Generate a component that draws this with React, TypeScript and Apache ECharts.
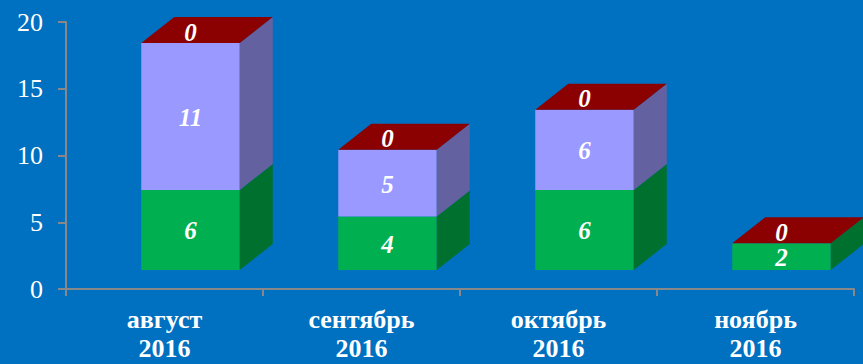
import React, { useEffect, useRef } from "react";
import * as echarts from "echarts";

const categories = ["август\n2016", "сентябрь\n2016", "октябрь\n2016", "ноябрь\n2016"];
const greenValues = [6, 4, 6, 2];
const lavenderValues: (number | null)[] = [11, 5, 6, null];
const redValues = [0, 0, 0, 0];
const yTicks = { min: 0, max: 20, interval: 5 };

const FONT = '"Liberation Serif", "Times New Roman", serif';

type Seg = { name: string; values: (number | null)[]; front: string; side: string; top: boolean };
const segs: Seg[] = [
  { name: "green", values: greenValues, front: "#00B050", side: "#00702F", top: false },
  { name: "lavender", values: lavenderValues, front: "#9999FF", side: "#6461A0", top: false },
  { name: "red", values: redValues, front: "#8B0000", side: "#5E0000", top: true },
];

export default function App() {
  const ref = useRef<HTMLDivElement>(null);
  useEffect(() => {
    if (!ref.current) return;
    const chart = echarts.init(ref.current, null, { renderer: "svg" });

    const series: any[] = segs.map((seg, si) => {
      const data = seg.values.map((v, i) => {
        let base = 0;
        for (let k = 0; k < si; k++) base += segs[k].values[i] ?? 0;
        return [i, base, v];
      });
      return {
        type: "custom",
        name: seg.name,
        data,
        z: 2 + si,
        renderItem: (params: any, api: any) => {
          const idx = api.value(0);
          const base = api.value(1);
          const val = api.value(2);
          if (val === null || val === undefined || isNaN(val)) return { type: "group", children: [] };
          const band = api.size([1, 0])[0];
          const lift = 19;
          const pBase = api.coord([idx, base]);
          const pTop = api.coord([idx, base + val]);
          const cx = pBase[0] + band * 0.132;
          const w = band * 0.5;
          const x0 = cx - w / 2;
          const x1 = cx + w / 2;
          const yb = pBase[1] - lift;
          const yt = pTop[1] - lift;
          const dx = band * 0.1675;
          const dy = 26;
          const children: any[] = [];
          if (yb - yt > 0) {
            children.push({
              type: "rect",
              shape: { x: x0, y: yt, width: w, height: yb - yt },
              style: { fill: seg.front },
            });
            children.push({
              type: "polygon",
              shape: { points: [[x1, yb], [x1 + dx, yb - dy], [x1 + dx, yt - dy], [x1, yt]] },
              style: { fill: seg.side },
            });
          }
          if (seg.top) {
            children.push({
              type: "polygon",
              shape: { points: [[x0, yt], [x1, yt], [x1 + dx, yt - dy], [x0 + dx, yt - dy]] },
              style: { fill: seg.front },
            });
          }
          const ly = yb - yt > 0 ? (yt + yb) / 2 + 1 : yt - 11;
          children.push({
            type: "text",
            z2: 10,
            style: {
              x: cx,
              y: ly,
              text: String(val),
              fill: "#FFFFFF",
              font: `italic bold 25px ${FONT}`,
              lineHeight: 20,
              align: "center",
              verticalAlign: "middle",
            },
          });
          return { type: "group", children };
        },
      };
    });

    chart.setOption({
      animation: false,
      backgroundColor: "#0070C0",
      grid: { left: 66, right: 9, top: 22, bottom: 75, containLabel: false, outerBoundsMode: "none" },
      xAxis: {
        type: "category",
        data: categories,
        boundaryGap: true,
        axisLine: { lineStyle: { color: "#888888", width: 2 } },
        axisTick: { show: true, length: 7, lineStyle: { color: "#888888", width: 2 } },
        axisLabel: {
          color: "#FFFFFF",
          fontFamily: FONT,
          fontWeight: "bold",
          fontSize: 26,
          lineHeight: 29,
          margin: 16,
          interval: 0,
        },
      },
      yAxis: {
        type: "value",
        min: yTicks.min,
        max: yTicks.max,
        interval: yTicks.interval,
        splitLine: { show: false },
        axisLine: { show: true, lineStyle: { color: "#888888", width: 2 } },
        axisTick: { show: true, length: 8, lineStyle: { color: "#888888", width: 2 } },
        axisLabel: {
          color: "#FFFFFF",
          fontFamily: FONT,
          fontSize: 26,
          margin: 23,
        },
      },
      series,
    });
    return () => chart.dispose();
  }, []);
  return <div ref={ref} style={{ width: 863, height: 364, position: "fixed", left: 0, top: 0 }} />;
}
